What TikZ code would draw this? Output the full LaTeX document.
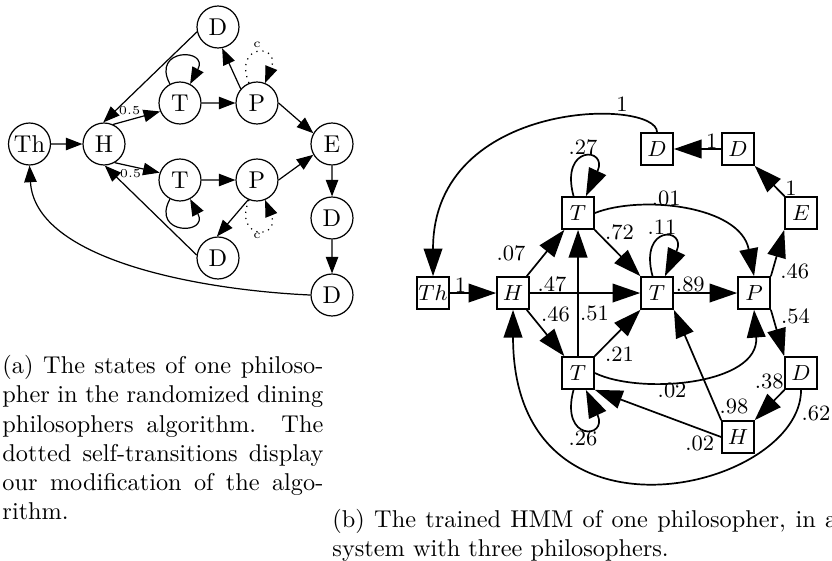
\documentclass[tikz,border=0pt]{standalone}
\usepackage{amsmath}
\usepackage{tikz}
\usetikzlibrary{arrows.meta,positioning}

% one justified caption line
\newcommand{\capline}[1]{\makebox[4.64cm][s]{#1}}

\begin{document}
\begin{tikzpicture}[scale=0.1446]
    \tikzstyle{every node}+=[inner sep=0pt]
    \tikzstyle{state}=[draw=black,circle,line width=0.5pt,minimum size=0.607cm,font=\fontsize{10}{12}\selectfont]
    \tikzstyle{hmm}=[draw=black,rectangle,line width=0.7pt,minimum size=0.463cm,font=\fontsize{9}{10}\selectfont]
    \tikzstyle{trans}=[black,line width=0.5pt,-{Triangle[length=0.24cm,width=0.18cm]}]
    \tikzstyle{htrans}=[black,line width=0.7pt,-{Triangle[length=0.4cm,width=0.27cm]}]
    \tikzstyle{tiny}=[font=\fontsize{5}{6}\selectfont]
    \tikzstyle{prob}=[font=\fontsize{9}{10}\selectfont]
    \tikzstyle{caption}=[font=\fontsize{10}{12}\selectfont,align=left]
    \useasboundingbox (0,0) rectangle (83.2,-56.1);

    % states of one philosopher
    \node [state] (th) at (2.95,-14.4) {Th};
    \node [state] (h) at (10.4,-14.4) {H};
    \node [state] (t1) at (18,-10.3) {T};
    \node [state] (p1) at (25.7,-10.3) {P};
    \node [state] (d1) at (21.8,-2.7) {D};
    \node [state] (t2) at (18,-18) {T};
    \node [state] (p2) at (25.7,-18) {P};
    \node [state] (d2) at (21.8,-25.8) {D};
    \node [state] (e) at (33.2,-14.4) {E};
    \node [state] (d3) at (33.2,-21.8) {D};
    \node [state] (d4) at (33.2,-29.5) {D};

    \draw [trans] (th) -- (h);
    \draw [trans] (h.65) -- node[tiny,pos=0.35,above=2pt] {0.5} (t1.203);
    \draw [trans] (h.-60) -- node[tiny,pos=0.35,below=1pt] {0.5} (t2.160);
    \draw [trans] (d1.193) -- (h.92);
    \draw [trans] (d2.172) -- (h.-88);
    \draw [trans] (t1) to[out=118,in=62,min distance=4.1cm] (t1);
    \draw [trans] (t2) to[out=-118,in=-62,min distance=4.1cm] (t2);
    \draw [trans] (t1) -- (p1);
    \draw [trans] (t2) -- (p2);
    \draw [trans] (p1.139) -- (d1.-79);
    \draw [trans] (p2.-114) -- (d2.93);
    \draw [trans,dotted] (p1) to[out=112,in=68,min distance=4.3cm] node[tiny,above=2pt] {c} (p1);
    \draw [trans,dotted] (p2) to[out=-112,in=-68,min distance=4.3cm] node[tiny,below=1pt] {c} (p2);
    \draw [trans] (p1.0) -- (e.150);
    \draw [trans] (p2.0) -- (e.210);
    \draw [trans] (e) -- (d3);
    \draw [trans] (d3) -- (d4);
    \draw [trans] (d4.west) .. controls (20,-29) and (3.5,-26) .. (th.south);

    % trained HMM
    \node [hmm] (mTh) at (43.3,-29.3) {$Th$};
    \node [hmm] (mH) at (51.3,-29.3) {$H$};
    \node [hmm] (mT1) at (57.8,-21.3) {$T$};
    \node [hmm] (mT2) at (65.7,-29.3) {$T$};
    \node [hmm] (mT3) at (57.8,-37.3) {$T$};
    \node [hmm] (mP) at (75.4,-29.3) {$P$};
    \node [hmm] (mE) at (80.1,-21.3) {$E$};
    \node [hmm] (mD1) at (73.8,-14.9) {$D$};
    \node [hmm] (mD2) at (65.7,-14.9) {$D$};
    \node [hmm] (mD3) at (80.1,-37.3) {$D$};
    \node [hmm] (mH2) at (73.8,-43.7) {$H$};

    \draw [htrans] (mTh) -- node[prob,pos=0.23,above] {1} (mH);
    \draw [htrans] (mD2.north) .. controls (65.7,-9.8) and (43.3,-9.8) .. (mTh.north) node[prob,pos=0.25,above=1pt] {1};
    \draw [htrans] (mD1) -- node[prob,pos=0.2,above] {1} (mD2);
    \draw [htrans] (mE) -- node[prob,pos=0,above right] {1} (mD1);
    \draw [htrans] (mP.north east) -- node[prob,pos=0.1,right=3pt] {.46} (mE.south west);
    \draw [htrans] (mH) -- node[prob,pos=0.5,left=8pt] {.07} (mT1);
    \draw [htrans] (mH) -- node[prob,pos=0.2,above] {.47} (mT2);
    \draw [htrans] (mH) -- node[prob,pos=0.1,right=4pt] {.46} (mT3);
    \draw [htrans] (mT3) -- node[prob,pos=0.34,right=0.5pt] {.51} (mT1);
    \draw [htrans] (mT1) to[out=105,in=65,min distance=5.4cm] node[prob,above=1pt] {.27} (mT1);
    \draw [htrans] (mT1) -- node[prob,pos=0.05,right=3pt] {.72} (mT2);
    \draw [htrans] (mT1.east) .. controls (64,-19.5) and (74,-20.5) .. (mP.north) node[prob,pos=0.4,above] {.01};
    \draw [htrans] (mT2) to[out=105,in=65,min distance=5.4cm] node[prob,above=1pt] {.11} (mT2);
    \draw [htrans] (mT2) -- node[prob,pos=0.26,above] {.89} (mP);
    \draw [htrans] (mP.south east) -- node[prob,pos=0.15,right=3pt] {.54} (mD3.north west);
    \draw [htrans] (mT3) -- node[prob,pos=0.05,right=3pt] {.21} (mT2);
    \draw [htrans] (mT3.east) .. controls (64,-39.5) and (76,-38.5) .. (mP.south) node[prob,pos=0.4,below] {.02};
    \draw [htrans] (mT3) to[out=-105,in=-65,min distance=5.4cm] node[prob,below=1pt] {.26} (mT3);
    \draw [htrans] (mH2.west) -- node[prob,pos=0.05,anchor=north east] {.02} (mT3.south east);
    \draw [htrans] (mH2.north west) -- node[prob,pos=0.05,above right] {.98} (mT2.south east);
    \draw [htrans] (mD3) -- node[prob,pos=0,above left] {.38} (mH2);
    \draw [htrans] (mD3.south) .. controls (80.1,-49) and (51.3,-56) .. (mH.south) node[prob,pos=0.08,right=2pt] {.62};

    % captions
    \node [caption,anchor=north west] (capa) at (0.2,-35.5) {\capline{(a) The states of one philoso-}\\
        \capline{pher in the randomized dining}\\
        \capline{philosophers algorithm. The}\\
        \capline{dotted self-transitions display}\\
        \capline{our modification of the algo-}\\
        rithm.};
    \node [caption,anchor=north west] (capb) at (33.2,-50.9) {\makebox[7.3cm][s]{(b) The trained HMM of one philosopher, in a}\\
        system with three philosophers.};
\end{tikzpicture}
\end{document}
